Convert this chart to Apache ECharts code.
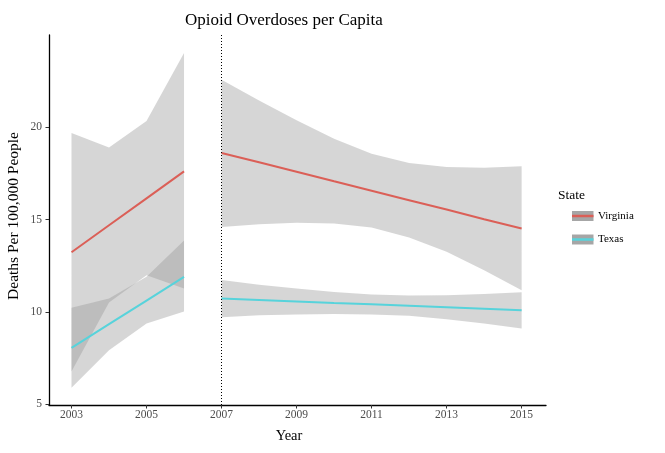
<!DOCTYPE html>
<html>
<head>
<meta charset="utf-8">
<script src="https://cdn.jsdelivr.net/npm/echarts@6/dist/echarts.min.js"></script>
<style>html,body{margin:0;padding:0;background:#fff}#c{width:665px;height:453px}</style>
</head>
<body>
<div id="c"></div>
<script>
// ---- data ----
const yearsPre = [2003, 2004, 2005, 2006];
const yearsPost = [2007, 2008, 2009, 2010, 2011, 2012, 2013, 2014, 2015];

const virginiaPre = [13.23, 14.69, 16.15, 17.61];
const virginiaPreLow = [6.77, 10.50, 11.98, 11.26];
const virginiaPreHigh = [19.69, 18.90, 20.34, 24.02];
const texasPre = [8.05, 9.33, 10.61, 11.89];
const texasPreLow = [5.88, 7.92, 9.37, 10.02];
const texasPreHigh = [10.22, 10.72, 11.90, 13.86];

const virginiaPost = [18.61, 18.10, 17.59, 17.07, 16.56, 16.05, 15.54, 15.02, 14.51];
const virginiaPostLow = [14.60, 14.75, 14.82, 14.78, 14.57, 14.03, 13.25, 12.25, 11.17];
const virginiaPostHigh = [22.58, 21.45, 20.38, 19.38, 18.57, 18.07, 17.85, 17.81, 17.89];
const texasPost = [10.72, 10.64, 10.56, 10.48, 10.41, 10.33, 10.25, 10.17, 10.09];
const texasPostLow = [9.70, 9.81, 9.86, 9.88, 9.86, 9.78, 9.60, 9.37, 9.10];
const texasPostHigh = [11.72, 11.47, 11.26, 11.08, 10.94, 10.89, 10.90, 10.97, 11.06];

const xTicks = [2003, 2005, 2007, 2009, 2011, 2013, 2015];
const yTicks = [5, 10, 15, 20];
const cutYear = 2007;

const stateNames = ['Virginia', 'Texas'];
const stateColors = ['#db5f57', '#57d3db'];

// ---- helpers ----
const FONT = '"Liberation Serif", "DejaVu Serif", serif';
const pairs = (xs, ys) => xs.map((x, i) => [x, ys[i]]);

const bands = [
  { xs: yearsPre, lo: virginiaPreLow, hi: virginiaPreHigh },
  { xs: yearsPre, lo: texasPreLow, hi: texasPreHigh },
  { xs: yearsPost, lo: virginiaPostLow, hi: virginiaPostHigh },
  { xs: yearsPost, lo: texasPostLow, hi: texasPostHigh }
];

const bandSeries = {
  type: 'custom', silent: true, clip: false, z: 1,
  encode: { x: 0, y: 1 },
  data: bands.map((b, i) => [b.xs[0], b.lo[0], i]),
  renderItem: function (params, api) {
    const b = bands[api.value(2)];
    const pts = [];
    b.xs.forEach((x, k) => pts.push(api.coord([x, b.hi[k]])));
    for (let k = b.xs.length - 1; k >= 0; k--) pts.push(api.coord([b.xs[k], b.lo[k]]));
    return { type: 'polygon', shape: { points: pts }, style: { fill: 'rgba(153,153,153,0.4)', stroke: null } };
  }
};

function line(name, xs, ys, color) {
  return {
    type: 'line', name: name, data: pairs(xs, ys), symbol: 'none', silent: true,
    lineStyle: { color: color, width: 2 }, z: 3
  };
}

const series = [
  bandSeries,
  line(stateNames[0], yearsPre, virginiaPre, stateColors[0]),
  line(stateNames[0], yearsPost, virginiaPost, stateColors[0]),
  line(stateNames[1], yearsPre, texasPre, stateColors[1]),
  line(stateNames[1], yearsPost, texasPost, stateColors[1]),
  {
    type: 'line', data: [], silent: true, z: 4,
    markLine: {
      silent: true, symbol: ['none', 'none'], label: { show: false },
      lineStyle: { color: '#000', type: [1, 2], width: 1 },
      data: [{ xAxis: cutYear }]
    }
  }
];

// legend drawn as graphic
const legendItems = [];
legendItems.push({ type: 'text', left: 558, top: 188, style: { text: 'State', font: '13.5px ' + FONT, fill: '#000' } });
stateNames.forEach((n, i) => {
  const y0 = 211 + i * 23.5;
  legendItems.push({ type: 'rect', shape: { x: 572, y: y0, width: 21.5, height: 10 }, style: { fill: '#a6a6a6' } });
  legendItems.push({ type: 'line', shape: { x1: 572, y1: y0 + 5, x2: 593.5, y2: y0 + 5 }, style: { stroke: stateColors[i], lineWidth: 2.5 } });
  legendItems.push({ type: 'text', x: 598, y: y0 + 5, style: { text: n, font: '11px ' + FONT, fill: '#000', verticalAlign: 'middle' } });
});

const chart = echarts.init(document.getElementById('c'));
chart.setOption({
  animation: false,
  backgroundColor: '#fff',
  title: {
    text: 'Opioid Overdoses per Capita', left: 180, top: 7,
    textStyle: { fontFamily: FONT, fontSize: 17, fontWeight: 'normal', color: '#000' }
  },
  grid: { left: 49, right: 119, top: 35, bottom: 48, containLabel: false },
  xAxis: {
    type: 'value', min: 2002.4, max: 2015.65,
    splitLine: { show: false },
    axisLine: { show: true, onZero: false, lineStyle: { color: '#000', width: 1.3 } },
    axisTick: { show: true, length: 3.5, customValues: xTicks, lineStyle: { color: '#333' } },
    axisLabel: { customValues: xTicks, formatter: v => String(v), fontFamily: FONT, fontSize: 11.5, color: '#4d4d4d', margin: 4 }
  },
  yAxis: {
    type: 'value', min: 4.95, max: 25,
    splitLine: { show: false },
    axisLine: { show: true, onZero: false, lineStyle: { color: '#000', width: 1.3 } },
    axisTick: { show: true, length: 3.5, customValues: yTicks, lineStyle: { color: '#333' } },
    axisLabel: { customValues: yTicks, formatter: v => String(v), fontFamily: FONT, fontSize: 11.5, color: '#4d4d4d', margin: 7 }
  },
  graphic: [
    { type: 'text', x: 289, y: 436, style: { text: 'Year', font: '14.5px ' + FONT, fill: '#000', align: 'center', verticalAlign: 'middle' } },
    { type: 'text', x: 14, y: 216, rotation: Math.PI / 2, style: { text: 'Deaths Per 100,000 People', font: '15.5px ' + FONT, fill: '#000', align: 'center', verticalAlign: 'middle' } },
    ...legendItems
  ],
  series: series
});
</script>
</body>
</html>
